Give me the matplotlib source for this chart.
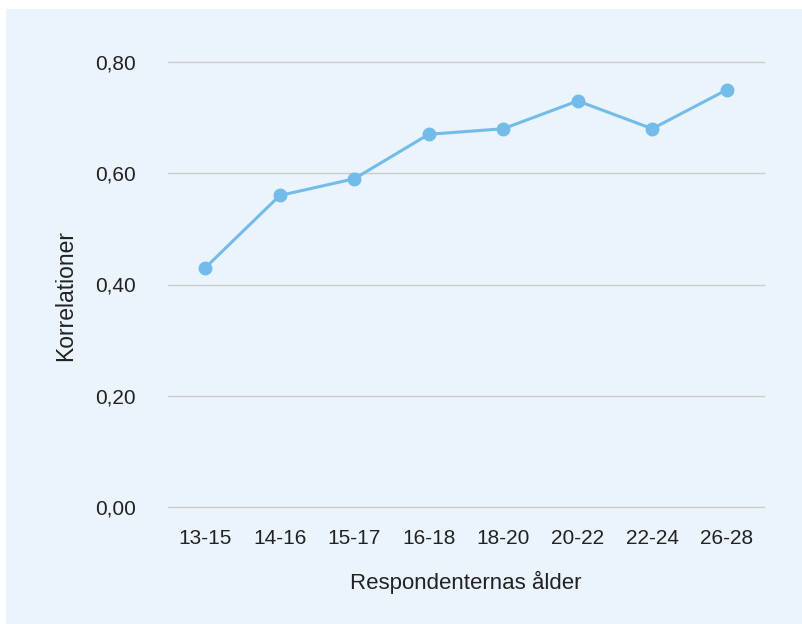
import matplotlib.pyplot as plt
from matplotlib.patches import Rectangle

plt.rcParams['font.family'] = ['Liberation Sans', 'DejaVu Sans']

age_groups = ['13-15', '14-16', '15-17', '16-18', '18-20', '20-22', '22-24', '26-28']
correlations = [0.43, 0.56, 0.59, 0.67, 0.68, 0.73, 0.68, 0.75]
y_ticks = [0.0, 0.2, 0.4, 0.6, 0.8]
y_labels = ['0,00', '0,20', '0,40', '0,60', '0,80']

bg = '#EBF4FC'
line_color = '#73BCEA'
text_color = '#222222'

fig = plt.figure(figsize=(8.02, 6.24), dpi=100)
fig.patch.set_facecolor('white')
fig.patches.append(Rectangle((6 / 802, 0), 1 - 6 / 802, 1 - 9 / 624,
                             transform=fig.transFigure, facecolor=bg,
                             edgecolor='none', zorder=-10))

ax = fig.add_axes([168 / 802, 1 - 507 / 624, (764 - 168) / 802, (507 - 62) / 624])
ax.set_facecolor('none')
ax.set_zorder(5)

x = list(range(len(age_groups)))
ax.plot(x, correlations, color=line_color, lw=2.2, marker='o', ms=9,
        clip_on=False, zorder=3)

ax.set_xlim(-0.5, len(age_groups) - 0.5)
ax.set_ylim(0, 0.8)
ax.set_yticks(y_ticks)
ax.set_yticklabels(y_labels)
ax.set_xticks(x)
ax.set_xticklabels(age_groups)
ax.grid(axis='y', color='#CCCCCC', lw=1)
for gl in ax.get_ygridlines():
    gl.set_clip_on(False)
ax.set_axisbelow(True)
for s in ax.spines.values():
    s.set_visible(False)
ax.tick_params(axis='both', length=0, labelsize=15, colors=text_color)
ax.tick_params(axis='y', pad=23)
ax.tick_params(axis='x', pad=16)

ax.set_xlabel('Respondenternas ålder', fontsize=16, color=text_color, labelpad=16)
ax.set_ylabel('Korrelationer', fontsize=16.5, color=text_color, labelpad=13, y=0.475)

fig.savefig('out.png', dpi=100, facecolor=fig.get_facecolor())
